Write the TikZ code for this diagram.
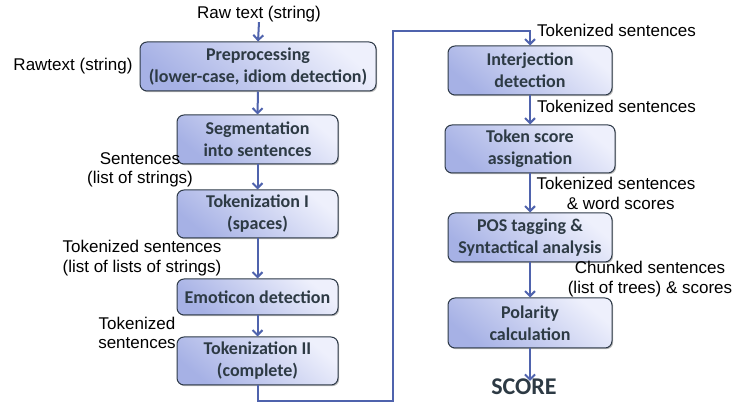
\documentclass[tikz,border=0pt]{standalone}
\usepackage{fontspec}
\setmainfont{Liberation Sans}
\newfontfamily\boxfont{Carlito}
\usetikzlibrary{arrows.meta,shadows}
\definecolor{arrowblue}{HTML}{4F63AD}
\definecolor{boxborder}{HTML}{2E3A48}
\definecolor{boxtext}{HTML}{2D3A44}
\definecolor{boxlight}{HTML}{EEF0FC}
\definecolor{boxdark}{HTML}{A6B1E5}
\tikzset{
  stepbox/.style={draw=boxborder, line width=1pt, rounded corners=7pt,
    top color=boxlight, bottom color=boxdark, shading angle=-40,
    drop shadow={shadow xshift=1.2pt, shadow yshift=-1.2pt, opacity=0.45, fill=black!60},
    text=boxtext, align=center, inner sep=0pt,
    font=\boxfont\bfseries\fontsize{18}{22}\selectfont},
  lbl/.style={align=center, inner sep=0pt, text=black,
    font=\fontsize{17}{19.5}\selectfont},
  flow/.style={draw=arrowblue, line width=2pt, -{Straight Barb[length=5pt,width=10pt,line width=2pt]}},
}
\begin{document}
\begin{tikzpicture}[x=1pt,y=-1pt]
\useasboundingbox (0,0) rectangle (734,403);
% left column boxes
\node[stepbox, minimum width=236pt, minimum height=49pt] (pre) at (258,66.5) {Preprocessing\\(lower-case, idiom detection)};
\node[stepbox, minimum width=161pt, minimum height=49pt] (seg) at (257.5,139.5) {Segmentation\\into sentences};
\node[stepbox, minimum width=161pt, minimum height=48pt] (tok1) at (257.5,214) {Tokenization I\\(spaces)};
\node[stepbox, minimum width=161pt, minimum height=36pt] (emo) at (257.5,297) {Emoticon detection};
\node[stepbox, minimum width=161pt, minimum height=48pt] (tok2) at (257.5,361) {Tokenization II\\(complete)};
% right column boxes
\node[stepbox, minimum width=164pt, minimum height=49pt] (inter) at (530,70.5) {Interjection\\detection};
\node[stepbox, minimum width=170pt, minimum height=48pt] (score) at (530,149) {Token score\\assignation};
\node[stepbox, minimum width=164pt, minimum height=49pt] (pos) at (530,237.5) {POS tagging \&\\Syntactical analysis};
\node[stepbox, minimum width=164pt, minimum height=50pt] (pol) at (530,323) {Polarity\\calculation};
% labels
\node[lbl] (raw) at (259,14) {Raw text (string)};
\node[lbl] (rawl) at (73,66) {Rawtext (string)};
\node[lbl] (l1) at (140,170) {Sentences\\(list of strings)};
\node[lbl] (l2) at (142,258) {Tokenized sentences\\(list of lists of strings)};
\node[lbl] (l3) at (137,333) {Tokenized\\sentences};
\node[lbl, anchor=west] (r0) at (537,30) {Tokenized sentences};
\node[lbl, anchor=west] (r1) at (537,106) {Tokenized sentences};
\node[lbl] (r2) at (616,193.5) {Tokenized sentences\\\ \ \& word scores};
\node[lbl] (r3) at (650,279) {Chunked sentences\\(list of trees) \& scores};
\node[text=boxtext, inner sep=0pt, font=\boxfont\bfseries\fontsize{24}{26}\selectfont] (out) at (524,387) {SCORE};
% connectors
\path[flow] (raw.south) -- (pre.north);
\path[flow] (pre.south) -- (seg.north);
\path[flow] (seg.south) -- (tok1.north);
\path[flow] (tok1.south) -- (emo.north);
\path[flow] (emo.south) -- (tok2.north);
\coordinate (c1) at (393,401);
\coordinate (c2) at (393,31);
\path[flow] (tok2.south) |- (c1) -- (c2) -| (inter.north);
\path[flow] (inter.south) -- (score.north);
\path[flow] (score.south) -- (pos.north);
\path[flow] (pos.south) -- (pol.north);
\path[flow] (pol.south) -- ([yshift=-2pt]out.north -| pol.south);
\end{tikzpicture}
\end{document}
